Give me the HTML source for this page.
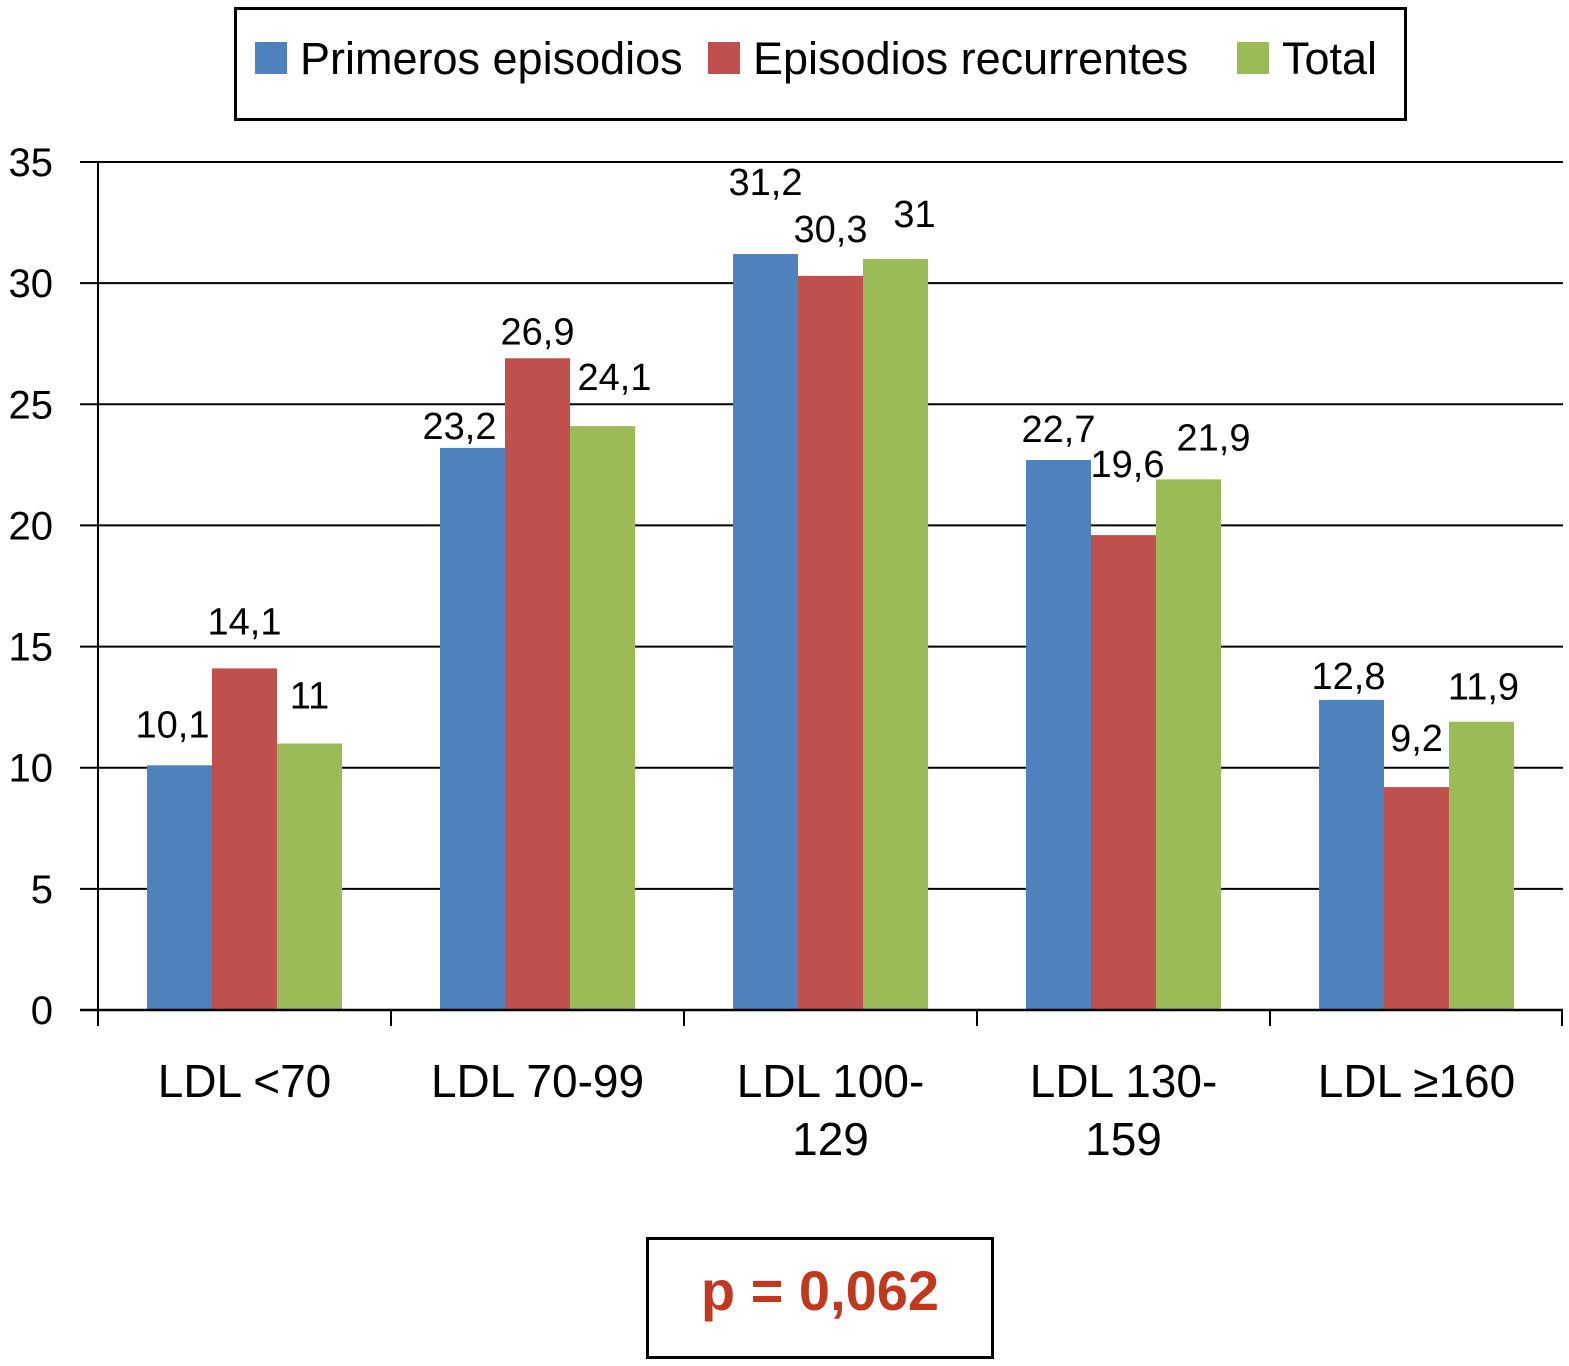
<!DOCTYPE html>
<html><head><meta charset="utf-8"><style>
html,body{margin:0;padding:0;background:#fff}
svg text{font-family:"Liberation Sans",Arial,sans-serif}
</style></head><body>
<svg id="chart" width="1569" height="1361" viewBox="0 0 1569 1361" xmlns="http://www.w3.org/2000/svg">
<g>
<rect x="235.5" y="8.5" width="1170" height="111" fill="none" stroke="#000" stroke-width="3"/>
<rect x="255" y="42" width="32" height="32" fill="#4f81bd"/>
<text x="300" y="74" font-size="45">Primeros episodios</text>
<rect x="708" y="42" width="32" height="32" fill="#c0504d"/>
<text x="753" y="74" font-size="45">Episodios recurrentes</text>
<rect x="1237" y="42" width="32" height="32" fill="#9bbb59"/>
<text x="1282" y="74" font-size="45">Total</text>
</g>
<g id="grid"></g>
<g id="bars"></g>
<g id="axes"></g>
<g>
<rect x="647.5" y="1238.5" width="345" height="119" fill="none" stroke="#000" stroke-width="3"/>
<text x="820" y="1310" font-size="56" font-weight="bold" fill="#c0381e" text-anchor="middle">p = 0,062</text>
</g>
</svg>
<script>
const categories = [["LDL <70"],["LDL 70-99"],["LDL 100-","129"],["LDL 130-","159"],["LDL \u2265160"]];
const primeros = [10.1, 23.2, 31.2, 22.7, 12.8];
const recurrentes = [14.1, 26.9, 30.3, 19.6, 9.2];
const total = [11, 24.1, 31, 21.9, 11.9];
const yTicks = [0,5,10,15,20,25,30,35];
// label placement (layout only): gap above bar top and horizontal nudge
const labelDy = [[28,34,35],[9,14,36],[59,34,32],[18,58,29],[11,36,22]];
const labelDx = [[-7,0,0],[-13,0,12],[0,0,19],[0,4,25],[-3,0,2]];

const NS = "http://www.w3.org/2000/svg";
const x0 = 98, x1 = 1563, y0 = 1010, yTop = 162, yMax = 35;
const band = (x1 - x0) / categories.length;
const barW = 65;
const yScale = v => y0 - v / yMax * (y0 - yTop);
const xBand = i => x0 + i * band;
function mk(tag, attrs, parent){const e=document.createElementNS(NS,tag);for(const k in attrs)e.setAttribute(k,attrs[k]);parent.appendChild(e);return e;}
const grid = document.getElementById('grid'), bars = document.getElementById('bars'), axes = document.getElementById('axes');

yTicks.forEach(t => {
  const y = yScale(t);
  if (t > 0) {
    const l = mk('line',{x1:80,x2:x1,y1:y,y2:y,stroke:'#000','stroke-width':2},grid);
    
    
  }
  const tx = mk('text',{x:53,y:y+14,'font-size':40,'text-anchor':'end'},axes);
  tx.textContent = t;
  
  
});

const series = [[primeros,'#4f81bd','primeros'],[recurrentes,'#c0504d','recurrentes'],[total,'#9bbb59','total']];
categories.forEach((c, i) => {
  const gStart = xBand(i) + (band - 3 * barW) / 2;
  series.forEach(([vals, col, nm], s) => {
    const v = vals[i], x = gStart + s * barW, y = yScale(v);
    const r = mk('rect',{x:x,y:y,width:barW,height:y0-y,fill:col},bars);
    
    
    const t = mk('text',{x:x+barW/2+labelDx[i][s],y:y-labelDy[i][s],'font-size':38,'text-anchor':'middle'},bars);
    t.textContent = String(v).replace('.',',');
    
    
  });
  const cx = xBand(i) + band / 2;
  c.forEach((line, k) => {
    const t = mk('text',{x:cx,y:1097+k*58,'font-size':46,'text-anchor':'middle'},axes);
    t.textContent = line;
    
    
  });
});

const ya = mk('line',{x1:x0,x2:x0,y1:yTop,y2:1026,stroke:'#000','stroke-width':2},axes);


const xa = mk('line',{x1:80,x2:x1,y1:y0,y2:y0,stroke:'#000','stroke-width':2.5},axes);


for (let i = 0; i <= categories.length; i++) {
  const x = Math.min(xBand(i), x1 - 1);
  const tk = mk('line',{x1:x,x2:x,y1:y0,y2:1026,stroke:'#000','stroke-width':2},axes);
  
  
}
</script>
</body></html>
